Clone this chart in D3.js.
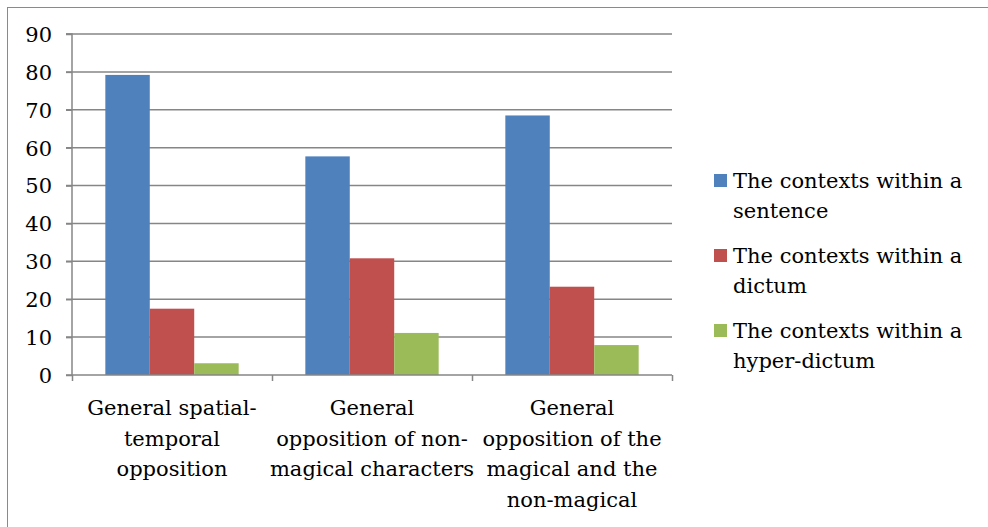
<!DOCTYPE html>
<html><head><meta charset="utf-8">
<script src="https://cdn.jsdelivr.net/npm/d3@7"></script>
<style>body{margin:0;background:#fff}svg{display:block}</style>
</head><body><svg id="c" width="988" height="527"></svg>
<script>
const categories = [
  ["General spatial-","temporal","opposition"],
  ["General","opposition of non-","magical characters"],
  ["General","opposition of the","magical and the","non-magical"]
];
const seriesNames = [
  ["The contexts within a","sentence"],
  ["The contexts within a","dictum"],
  ["The contexts within a","hyper-dictum"]
];
const sentence = [79.2, 57.7, 68.5];
const dictum = [17.5, 30.8, 23.3];
const hyperDictum = [3.1, 11.1, 7.9];
const yTicks = [0,10,20,30,40,50,60,70,80,90];
const colors = ["#4F81BD","#C0504D","#9BBB59"];

(function(){
const FONT = "DejaVu Serif";
const FS = "21px";
const series = [sentence, dictum, hyperDictum];
const svg = d3.select("#c");
const pL = 72, pR = 672, pT = 34, pB = 375;

svg.append("rect").attr("x",7.5).attr("y",7.5).attr("width",990).attr("height",530)
  .attr("fill","none").attr("stroke","#8a8a8a").attr("stroke-width",1);

const x0 = d3.scaleBand().domain(d3.range(categories.length)).range([pL,pR]).paddingInner(0).paddingOuter(0);
const y = d3.scaleLinear().domain([0,90]).range([pB,pT]);
const bw = x0.bandwidth()/(3+1.5);
const x1 = d3.scaleBand().domain(d3.range(3)).range([0, bw*3]);

svg.append("g").selectAll("line").data(yTicks.filter(t=>t>0)).join("line")
  .attr("x1",pL-6).attr("x2",pR).attr("y1",d=>y(d)).attr("y2",d=>y(d))
  .attr("stroke","#868686").attr("stroke-width",1.5);

const g = svg.append("g");
categories.forEach((c,i)=>{
  series.forEach((s,j)=>{
    g.append("rect")
      .attr("x", x0(i) + bw*0.75 + x1(j))
      .attr("y", y(s[i]))
      .attr("width", x1.bandwidth())
      .attr("height", y(0)-y(s[i]))
      .attr("fill", colors[j]);
  });
});

const yAxis = d3.axisLeft(y).tickValues(yTicks).tickSize(6).tickPadding(14).tickFormat(d3.format("d"));
const ya = svg.append("g").attr("transform",`translate(${pL},0)`).call(yAxis);
ya.attr("font-family", null).attr("font-size", null);
ya.select(".domain").attr("stroke","#868686").attr("stroke-width",1.5).attr("d",`M-6,${pT}H0V${pB}H-6`);
ya.selectAll(".tick line").attr("stroke","#868686").attr("stroke-width",1.5);
ya.selectAll(".tick text").attr("font-size",FS).attr("font-family",FONT).attr("fill","#000").attr("dy","0.35em");

const xs = d3.scaleLinear().domain([0,3]).range([pL,pR]);
const xa = svg.append("g").attr("transform",`translate(0,${pB})`)
  .call(d3.axisBottom(xs).tickValues([0,1,2,3]).tickSize(6).tickFormat(""));
xa.select(".domain").attr("stroke","#868686").attr("stroke-width",1.5).attr("d",`M${pL},0H${pR}`);
xa.selectAll(".tick line").attr("stroke","#868686").attr("stroke-width",1.5);

categories.forEach((lines,i)=>{
  const t = svg.append("text").attr("text-anchor","middle").attr("font-size",FS).attr("font-family",FONT);
  lines.forEach((ln,k)=>{
    t.append("tspan").attr("x", x0(i)+x0.bandwidth()/2).attr("y", 415 + k*30.5).text(ln);
  });
});

seriesNames.forEach((lines,j)=>{
  const yy = 188 + j*75;
  svg.append("rect").attr("x",714).attr("y",yy-14).attr("width",13).attr("height",13).attr("fill",colors[j]);
  const t = svg.append("text").attr("font-size",FS).attr("font-family",FONT);
  lines.forEach((ln,k)=>{
    t.append("tspan").attr("x", 733).attr("y", yy + k*30).text(ln);
  });
});
})();
</script>
</body></html>
